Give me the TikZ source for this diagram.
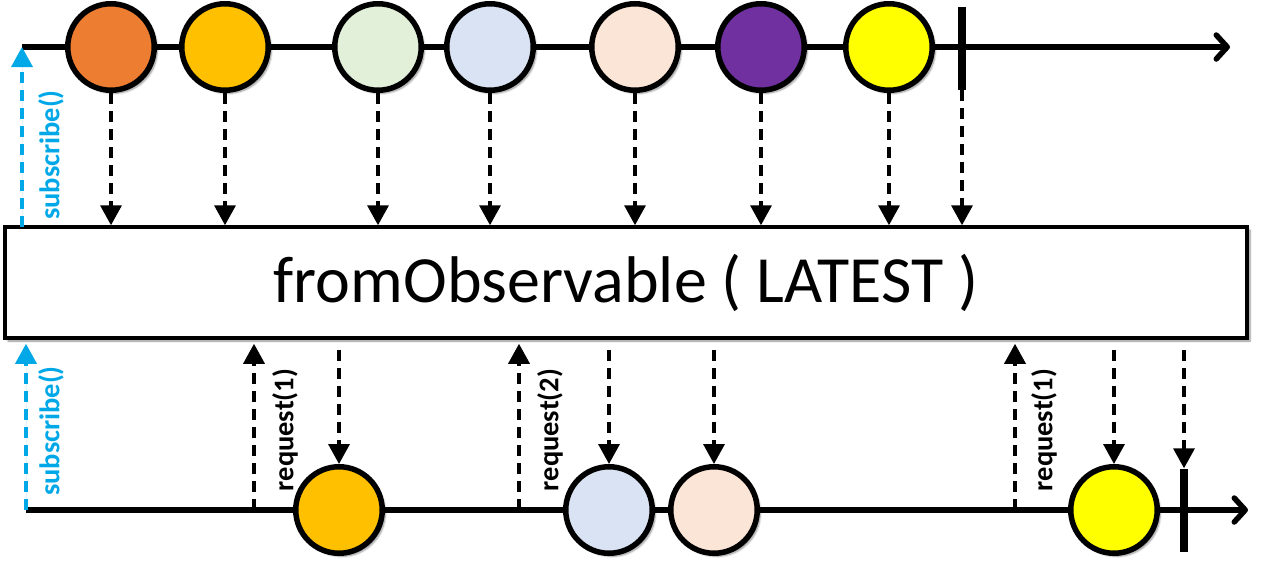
\documentclass[tikz,border=0pt]{standalone}
\usepackage{fontspec}
\setmainfont{Carlito}
\usetikzlibrary{arrows.meta,shadows.blur}
\definecolor{subblue}{RGB}{0,168,232}
\definecolor{cOrange}{HTML}{ED7D31}
\definecolor{cAmber}{HTML}{FFC000}
\definecolor{cGreen}{HTML}{E2F0D9}
\definecolor{cBlue}{HTML}{DAE3F3}
\definecolor{cPeach}{HTML}{FBE5D6}
\definecolor{cPurple}{HTML}{7030A0}
\definecolor{cYellow}{HTML}{FFFF00}
\tikzset{
  shd/.style={blur shadow={shadow xshift=3pt,shadow yshift=-3pt,shadow blur steps=6,shadow opacity=45}},
  marble/.style={circle,draw=black,line width=5.5pt,minimum size=86.5pt,inner sep=0pt,shd},
  termbar/.style={fill=black,draw=none,minimum width=8pt,minimum height=83pt,inner sep=0pt},
  timeline/.style={line width=5.5pt,-{Straight Barb[length=11pt,width=24pt,line cap=round,line join=round]}},
  emit/.style={line width=3.5pt,dash pattern=on 11pt off 7pt,-{Triangle[length=20pt,width=21pt]}},
  subarrow/.style={emit,draw=subblue,fill=subblue},
  lbl/.style={rotate=90,font=\fontsize{28.5}{28.5}\selectfont\bfseries,inner sep=0pt},
  opbox/.style={draw=black,line width=3.5pt,fill=white,minimum width=1242pt,minimum height=111pt,inner sep=0pt,shd,font=\fontsize{66}{66}\selectfont}
}
\begin{document}
\begin{tikzpicture}[x=1pt,y=-1pt]
\useasboundingbox (0,0) rectangle (1285,571);

% top timeline
\coordinate (ts) at (22,47);
\coordinate (te) at (1230,47);
\draw[timeline] (ts) -- (te);
\node[marble,fill=cOrange] (t1) at (111,47) {};
\node[marble,fill=cAmber] (t2) at (225,47) {};
\node[marble,fill=cGreen] (t3) at (378,47) {};
\node[marble,fill=cBlue] (t4) at (490,47) {};
\node[marble,fill=cPeach] (t5) at (635,47) {};
\node[marble,fill=cPurple] (t6) at (761,47) {};
\node[marble,fill=cYellow] (t7) at (889,47) {};
\node[termbar] (tt) at (962,48.5) {};

% operator box
\node[opbox] (box) at (626,282.5) {fromObservable ( LATEST )};

% top arrows
\foreach \n in {t1,t2,t3,t4,t5,t6,t7}
  \draw[emit] (\n.south) -- (\n.south |- box.north);
\draw[emit] (tt.south) -- (tt.south |- box.north);

% subscribe top
\coordinate (s1) at (22,227);
\draw[subarrow] (s1) -- (ts);
\node[lbl,text=subblue] (sl1) at (51,155) {subscribe()};

% bottom timeline
\coordinate (bs) at (26,510);
\coordinate (be) at (1248,510);
\draw[timeline] (bs) -- (be);
\node[marble,fill=cAmber] (b1) at (339,510) {};
\node[marble,fill=cBlue] (b2) at (609,510) {};
\node[marble,fill=cPeach] (b3) at (714,510) {};
\node[marble,fill=cYellow] (b4) at (1114,510) {};
\node[termbar] (bt) at (1184,510) {};

% bottom arrows
\foreach \n in {b1,b2,b3,b4}
  \draw[emit,shorten <=10pt] (\n.north |- box.south) -- (\n.north);
\draw[emit,shorten <=10pt] (bt.north |- box.south) -- (bt.north);

% subscribe bottom
\draw[subarrow,shorten >=4pt] (bs) -- (bs |- box.south);
\node[lbl,text=subblue] (sl2) at (51,431) {subscribe()};

% requests
\coordinate (r1) at (254,510);
\coordinate (r2) at (519,510);
\coordinate (r3) at (1015,510);
\draw[emit,shorten >=4pt] (r1) -- (r1 |- box.south);
\draw[emit,shorten >=4pt] (r2) -- (r2 |- box.south);
\draw[emit,shorten >=4pt] (r3) -- (r3 |- box.south);
\node[lbl] (q1) at (285,430) {request(1)};
\node[lbl] (q2) at (550,430) {request(2)};
\node[lbl] (q3) at (1044,430) {request(1)};
\end{tikzpicture}
\end{document}
